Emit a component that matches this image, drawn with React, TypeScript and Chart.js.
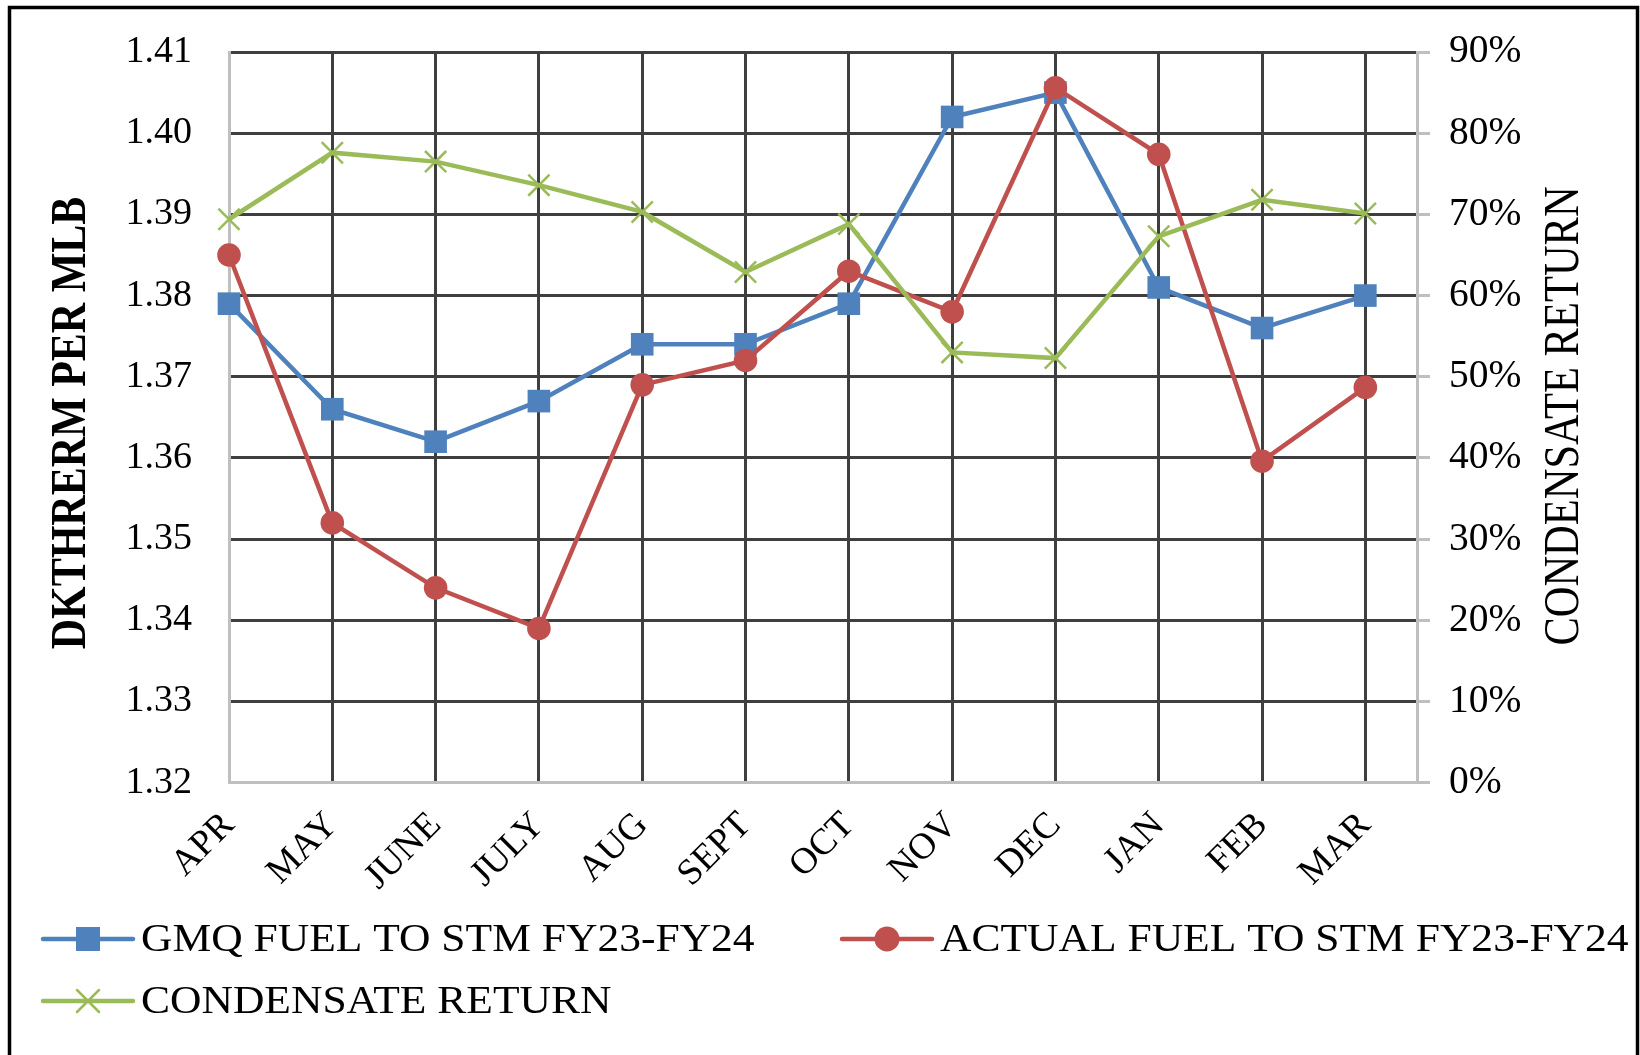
import React, { useEffect, useRef } from 'react';
import { Chart, registerables } from 'chart.js';

Chart.register(...registerables);

// ---- data ----
const MONTHS = ['APR', 'MAY', 'JUNE', 'JULY', 'AUG', 'SEPT', 'OCT', 'NOV', 'DEC', 'JAN', 'FEB', 'MAR'];
const GMQ_FUEL = [1.379, 1.366, 1.362, 1.367, 1.374, 1.374, 1.379, 1.402, 1.405, 1.381, 1.376, 1.380];
const ACTUAL_FUEL = [1.385, 1.352, 1.344, 1.339, 1.369, 1.372, 1.383, 1.378, 1.4056, 1.3974, 1.3596, 1.3687];
const CONDENSATE_RETURN = [69.4, 77.6, 76.5, 73.6, 70.3, 62.9, 68.8, 53.0, 52.3, 67.3, 71.8, 70.1];
const LEFT_TICKS = [1.32, 1.33, 1.34, 1.35, 1.36, 1.37, 1.38, 1.39, 1.40, 1.41];
const RIGHT_TICKS = [0, 10, 20, 30, 40, 50, 60, 70, 80, 90];
const SERIES_NAMES = ['GMQ FUEL TO STM FY23-FY24', 'ACTUAL FUEL TO STM FY23-FY24', 'CONDENSATE RETURN'];
const LEFT_TITLE = 'DKTHRERM PER MLB';
const RIGHT_TITLE = 'CONDENSATE RETURN';

const BLUE = '#4F81BD';
const RED = '#C0504D';
const GREEN = '#9BBB59';
const GRID = '#3f3f3f';
const AXIS = '#bfbfbf';
const NONE = 'rgba(0,0,0,0)';
const FONT = '"Liberation Serif", "Times New Roman", serif';

const W = 1640;
const H = 1055;

function drawMarker(ctx: CanvasRenderingContext2D, style: string, color: string, cx: number, cy: number) {
  ctx.save();
  ctx.fillStyle = color;
  ctx.strokeStyle = color;
  if (style === 'rect') {
    ctx.fillRect(cx - 12, cy - 12, 24, 24);
  } else if (style === 'circle') {
    ctx.beginPath();
    ctx.arc(cx, cy, 12.5, 0, Math.PI * 2);
    ctx.fill();
  } else {
    const d = 11;
    ctx.lineWidth = 2.5;
    ctx.beginPath();
    ctx.moveTo(cx - d, cy - d);
    ctx.lineTo(cx + d, cy + d);
    ctx.moveTo(cx - d, cy + d);
    ctx.lineTo(cx + d, cy - d);
    ctx.stroke();
  }
  ctx.restore();
}

const decorPlugin = {
  id: 'decor',
  afterDraw(chart: any) {
    const ctx: CanvasRenderingContext2D = chart.ctx;
    ctx.save();
    // outer frame
    ctx.strokeStyle = '#000';
    ctx.lineWidth = 3.5;
    ctx.strokeRect(9.5, 7.5, 1628, 1090);

    ctx.fillStyle = '#000';
    ctx.textAlign = 'center';
    ctx.textBaseline = 'middle';

    // left axis title
    ctx.save();
    ctx.font = 'bold 42px ' + FONT;
    ctx.translate(71.5, 423);
    ctx.rotate(-Math.PI / 2);
    ctx.scale(1, 1.2);
    ctx.fillText(LEFT_TITLE, 0, 0);
    ctx.restore();

    // right axis title
    ctx.save();
    ctx.font = '42.5px ' + FONT;
    ctx.translate(1565, 416);
    ctx.rotate(-Math.PI / 2);
    ctx.scale(1, 1.2);
    ctx.fillText(RIGHT_TITLE, 0, 0);
    ctx.restore();

    // legend
    const items = [
      { name: SERIES_NAMES[0], color: BLUE, style: 'rect', x: 43, y: 939 },
      { name: SERIES_NAMES[1], color: RED, style: 'circle', x: 842, y: 939 },
      { name: SERIES_NAMES[2], color: GREEN, style: 'crossRot', x: 43, y: 1001 },
    ];
    for (const it of items) {
      ctx.strokeStyle = it.color;
      ctx.lineWidth = 4.5;
      ctx.lineCap = 'round';
      ctx.beginPath();
      ctx.moveTo(it.x, it.y);
      ctx.lineTo(it.x + 90, it.y);
      ctx.stroke();
      drawMarker(ctx, it.style, it.color, it.x + 45, it.y);
      ctx.save();
      ctx.fillStyle = '#000';
      ctx.font = '40.5px ' + FONT;
      ctx.textAlign = 'left';
      ctx.translate(it.x + 98, it.y + 1);
      ctx.scale(1.075, 1);
      ctx.fillText(it.name, 0, 0);
      ctx.restore();
    }
    ctx.restore();
  },
};

export default function App() {
  const ref = useRef<HTMLCanvasElement | null>(null);

  useEffect(() => {
    if (!ref.current) return;
    const toXY = (arr: number[]) => arr.map((v, i) => ({ x: i, y: v }));
    const chart = new Chart(ref.current, {
      type: 'line',
      data: {
        datasets: [
          {
            label: SERIES_NAMES[0],
            data: toXY(GMQ_FUEL),
            yAxisID: 'y',
            borderColor: BLUE,
            backgroundColor: BLUE,
            borderWidth: 4.5,
            pointStyle: 'rect',
            pointRadius: 16,
            pointHoverRadius: 16,
            pointBorderWidth: 0,
            pointBackgroundColor: BLUE,
            tension: 0,
            clip: false,
            order: 2,
          },
          {
            label: SERIES_NAMES[1],
            data: toXY(ACTUAL_FUEL),
            yAxisID: 'y',
            borderColor: RED,
            backgroundColor: RED,
            borderWidth: 4.5,
            pointStyle: 'circle',
            pointRadius: 11.8,
            pointHoverRadius: 11.8,
            pointBorderWidth: 0,
            pointBackgroundColor: RED,
            tension: 0,
            clip: false,
            order: 1,
          },
          {
            label: SERIES_NAMES[2],
            data: toXY(CONDENSATE_RETURN),
            yAxisID: 'y1',
            borderColor: GREEN,
            backgroundColor: GREEN,
            borderWidth: 4.5,
            pointStyle: 'crossRot',
            pointRadius: 15,
            pointHoverRadius: 15,
            pointBorderWidth: 2.5,
            pointBorderColor: GREEN,
            tension: 0,
            clip: false,
            order: 0,
          },
        ] as any,
      },
      options: {
        animation: false,
        responsive: false,
        devicePixelRatio: 1,
        events: [],
        layout: { padding: { top: 52, left: 0, right: 0, bottom: 0 } },
        plugins: {
          legend: { display: false },
          tooltip: { enabled: false },
          title: { display: false },
        },
        scales: {
          x: {
            type: 'linear',
            position: 'bottom',
            min: 0,
            max: 11.5,
            bounds: 'data',
            afterBuildTicks: (s: any) => {
              s.ticks = MONTHS.map((_, i) => ({ value: i }));
            },
            afterFit: (s: any) => {
              s.height = 272.3;
            },
            grid: {
              color: (c: any) => (c.tick && c.tick.value === 0 ? NONE : GRID),
              lineWidth: 3,
              drawTicks: false,
            },
            border: { color: AXIS, width: 3 },
            ticks: {
              autoSkip: false,
              minRotation: 45,
              maxRotation: 45,
              padding: 21,
              color: '#000',
              font: { family: FONT, size: 37 },
              callback: (v: any) => MONTHS[v] ?? '',
            },
          },
          y: {
            type: 'linear',
            position: 'left',
            min: 1.32,
            max: 1.41,
            bounds: 'data',
            afterBuildTicks: (s: any) => {
              s.ticks = LEFT_TICKS.map((v) => ({ value: v }));
            },
            afterFit: (s: any) => {
              s.width = 229;
            },
            grid: {
              color: (c: any) => (c.tick && Math.abs(c.tick.value - 1.32) < 1e-6 ? NONE : GRID),
              lineWidth: 3,
              drawTicks: true,
              tickLength: 37,
              tickColor: NONE,
            },
            border: { color: AXIS, width: 3 },
            ticks: {
              padding: 0,
              color: '#000',
              font: { family: FONT, size: 38 },
              callback: (v: any) => Number(v).toFixed(2),
            },
          },
          y1: {
            type: 'linear',
            position: 'right',
            min: 0,
            max: 90,
            bounds: 'data',
            afterBuildTicks: (s: any) => {
              s.ticks = RIGHT_TICKS.map((v) => ({ value: v }));
            },
            afterFit: (s: any) => {
              s.width = W - 1417;
            },
            grid: {
              drawOnChartArea: false,
              drawTicks: true,
              tickLength: 13,
              color: AXIS,
              lineWidth: 3,
            },
            border: { color: AXIS, width: 3 },
            ticks: {
              padding: 19,
              color: '#000',
              font: { family: FONT, size: 39.5 },
              callback: (v: any) => Math.round(Number(v)) + '%',
            },
          },
        },
      } as any,
      plugins: [decorPlugin],
    });
    return () => chart.destroy();
  }, []);

  return (
    <div style={{ position: 'absolute', left: 0, top: 0, width: W, height: H, background: '#fff', overflow: 'hidden' }}>
      <canvas ref={ref} width={W} height={H} style={{ display: 'block', width: W, height: H }} />
    </div>
  );
}
